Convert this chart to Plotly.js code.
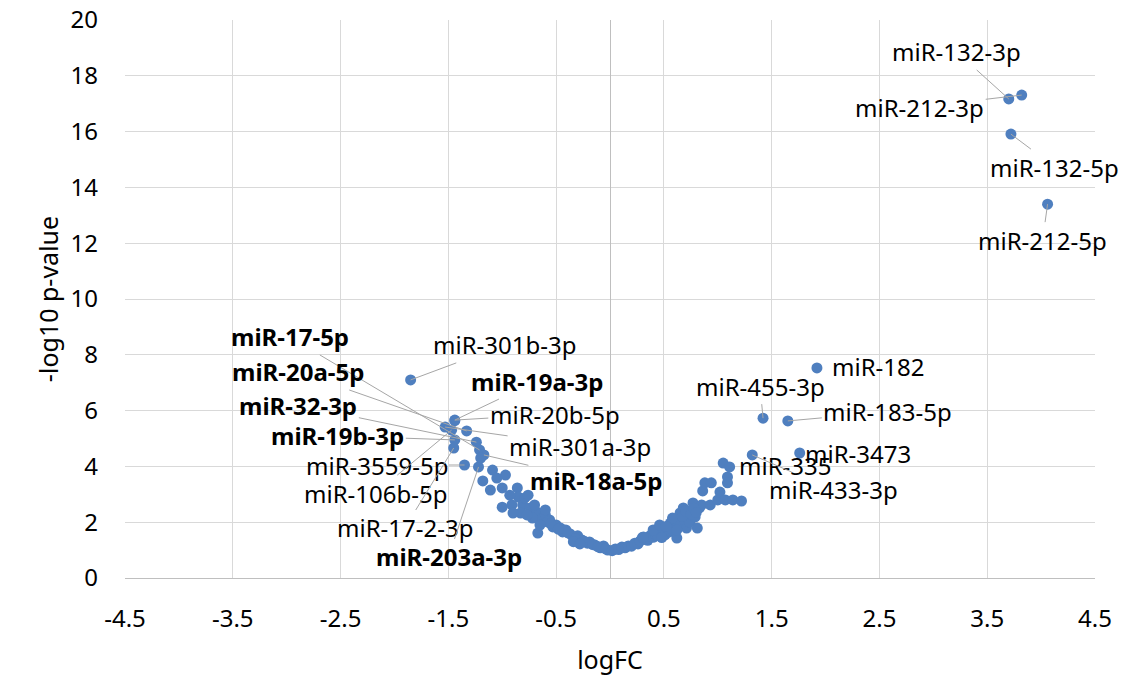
<!DOCTYPE html>
<html>
<head>
<meta charset="utf-8">
<script src="https://cdn.plot.ly/plotly-3.0.1.min.js"></script>
<style>html,body{margin:0;padding:0;background:#fff;}#chart{width:1127px;height:681px;}</style>
</head>
<body>
<div id="chart"></div>
<script>
// Down-regulated side (logFC < 0)
const downLogFC = [-1.85,-1.44,-1.44,-1.53,-1.47,-1.33,-1.44,-1.45,-1.24,-1.21,-1.17,-1.35,-1.22,-1.20,-1.09,-0.97,-1.05,-1.18,-1.11,-1.00,-0.86,-0.85,-1.00,-0.91,-0.81,-0.83,-0.90,-0.74,-0.68,-0.62,-0.65,-0.67,-0.56,-0.53,-0.44,-0.34,-0.21,-0.09,-0.02,-0.60,-0.58,-0.50,-0.46,-0.41,-0.37,-0.30,-0.26,-0.19,-0.14,-0.06,-0.65,-0.72,-0.77,-0.70,-0.79,-0.93,-0.76,-0.60,-0.55,-0.48,-0.39,-0.32,-0.24,-0.16,-0.11,-0.04,-0.34,-0.28];
const downNegLogP = [7.10,5.66,5.64,5.41,5.30,5.27,4.95,4.66,4.87,4.59,4.41,4.05,3.98,4.30,3.87,3.69,3.58,3.48,3.15,3.23,3.23,2.90,2.54,2.62,2.62,2.33,2.33,2.51,2.37,2.19,2.08,1.61,2.08,1.83,1.65,1.47,1.25,1.08,1.00,2.26,2.01,1.90,1.79,1.72,1.58,1.51,1.36,1.29,1.18,1.15,1.90,2.15,2.26,2.62,2.87,2.97,2.97,2.44,1.95,1.75,1.62,1.42,1.32,1.20,1.12,1.04,1.30,1.22];
// Up-regulated side (logFC > 0)
const upLogFC = [0.02,0.05,0.08,0.11,0.14,0.17,0.20,0.23,0.26,0.28,0.30,0.32,0.35,0.37,0.40,0.42,0.44,0.46,0.49,0.51,0.53,0.55,0.56,0.58,0.60,0.62,0.63,0.65,0.66,0.68,0.69,0.71,0.72,0.74,0.76,0.77,0.79,0.81,0.83,0.85,0.86,0.88,0.93,0.94,1.00,1.02,1.07,1.09,1.09,1.05,1.11,1.14,1.22,1.32,0.31,0.40,0.46,0.58,0.62,0.52,0.48,0.67,0.70,0.75,0.78,0.80,1.42,1.65,1.76,1.92,3.70,3.82,3.72,4.06];
const upNegLogP = [0.98,1.04,1.02,1.11,1.08,1.15,1.14,1.25,1.22,1.33,1.45,1.40,1.35,1.51,1.46,1.58,1.52,1.72,1.61,1.55,1.79,1.65,1.97,1.72,2.08,1.43,1.86,2.33,1.95,2.51,2.08,1.79,2.26,2.00,2.44,2.69,2.19,1.79,2.51,2.62,3.12,3.41,2.62,3.41,2.80,3.08,2.80,3.62,3.41,4.12,3.98,2.80,2.76,4.41,1.47,1.72,1.90,2.15,1.72,1.85,1.45,2.20,2.40,2.30,2.50,2.35,5.73,5.63,4.48,7.53,17.17,17.31,15.91,13.40];

// Labelled miRNAs
const labelNames = ["miR-132-3p","miR-212-3p","miR-132-5p","miR-212-5p","miR-182","miR-455-3p","miR-183-5p","miR-3473","miR-335","miR-433-3p","miR-17-5p","miR-301b-3p","miR-20a-5p","miR-19a-3p","miR-32-3p","miR-20b-5p","miR-19b-3p","miR-301a-3p","miR-3559-5p","miR-106b-5p","miR-18a-5p","miR-17-2-3p","miR-203a-3p"];
const labelLogFC = [3.70,3.82,3.72,4.06,1.92,1.42,1.65,1.76,1.11,1.32,-1.21,-1.85,-1.33,-1.44,-1.24,-1.44,-1.44,-1.53,-1.35,-1.47,-1.17,-1.45,-1.22];
const labelNegLogP = [17.17,17.31,15.91,13.40,7.53,5.73,5.63,4.48,3.98,4.41,4.59,7.10,5.27,5.66,4.87,5.66,4.95,5.41,4.05,5.30,4.41,4.66,3.98];
const labelBold = [false,false,false,false,false,false,false,false,false,false,true,false,true,true,true,false,true,false,false,false,true,false,true];

// label placement (pixel offsets of text centre from point), leader line flag
const labelDx = [-52,-102,44,-5,61,-3,100,58,55,81,-190,94,-169,82,-178,100,-117,135,-88,-76,112,-49,-30];
const labelDy = [-47,12,33,36,-1,-32,-9,0,-1,35,-113,-35,-59,-39,-37,-6,-4,19,0,63,26,80,90];
const labelLine = [true,true,true,true,false,true,true,false,false,true,true,true,true,true,true,true,true,true,true,true,true,true,true];

const FONT = "Noto Sans, Open Sans, DejaVu Sans, sans-serif";
const x = downLogFC.concat(upLogFC);
const y = downNegLogP.concat(upNegLogP);

const trace = {
  x: x, y: y, type: 'scatter', mode: 'markers',
  marker: {color: '#4f7fbf', size: 11},
  hoverinfo: 'none', cliponaxis: false
};

const annotations = labelNames.map((n, i) => {
  const a = {
    x: labelLogFC[i], y: labelNegLogP[i], xref: 'x', yref: 'y',
    text: labelBold[i] ? '<b>' + n + '</b>' : n,
    font: {family: FONT, size: 24, color: '#000'},
    xanchor: 'center', yanchor: 'middle'
  };
  if (labelLine[i]) {
    Object.assign(a, {showarrow: true, ax: labelDx[i], ay: labelDy[i], arrowhead: 0,
      arrowwidth: 1, arrowcolor: '#a6a6a6', standoff: 0, startstandoff: 0});
  } else {
    Object.assign(a, {showarrow: false, xshift: labelDx[i], yshift: -labelDy[i]});
  }
  return a;
});

const xTicks = [-4.5,-3.5,-2.5,-1.5,-0.5,0.5,1.5,2.5,3.5,4.5];
const layout = {
  width: 1127, height: 681,
  margin: {l: 125, r: 32, t: 20, b: 103},
  paper_bgcolor: '#fff', plot_bgcolor: '#fff',
  showlegend: false,
  font: {family: FONT, size: 24, color: '#000'},
  xaxis: {
    range: [-4.5, 4.5], tickvals: xTicks, ticktext: xTicks.map(String),
    showgrid: true, gridcolor: '#d9d9d9', gridwidth: 1,
    zeroline: true, zerolinecolor: '#bfbfbf', zerolinewidth: 1,
    showline: true, linecolor: '#bfbfbf', linewidth: 1,
    ticks: '', ticklabelstandoff: 19,
    tickfont: {family: FONT, size: 24, color: '#000'},
    title: {text: 'logFC', font: {family: FONT, size: 25, color: '#000'}, standoff: 18}
  },
  yaxis: {
    range: [0, 20], dtick: 2, tick0: 0,
    showgrid: true, gridcolor: '#d9d9d9', gridwidth: 1,
    zeroline: false, showline: false,
    ticks: '', ticklabelstandoff: 26,
    tickfont: {family: FONT, size: 24, color: '#000'},
    title: {text: '-log10 p-value', font: {family: FONT, size: 25, color: '#000'}, standoff: 4}
  },
  annotations: annotations
};

Plotly.newPlot('chart', [trace], layout, {displayModeBar: false, staticPlot: true});
</script>
</body>
</html>
